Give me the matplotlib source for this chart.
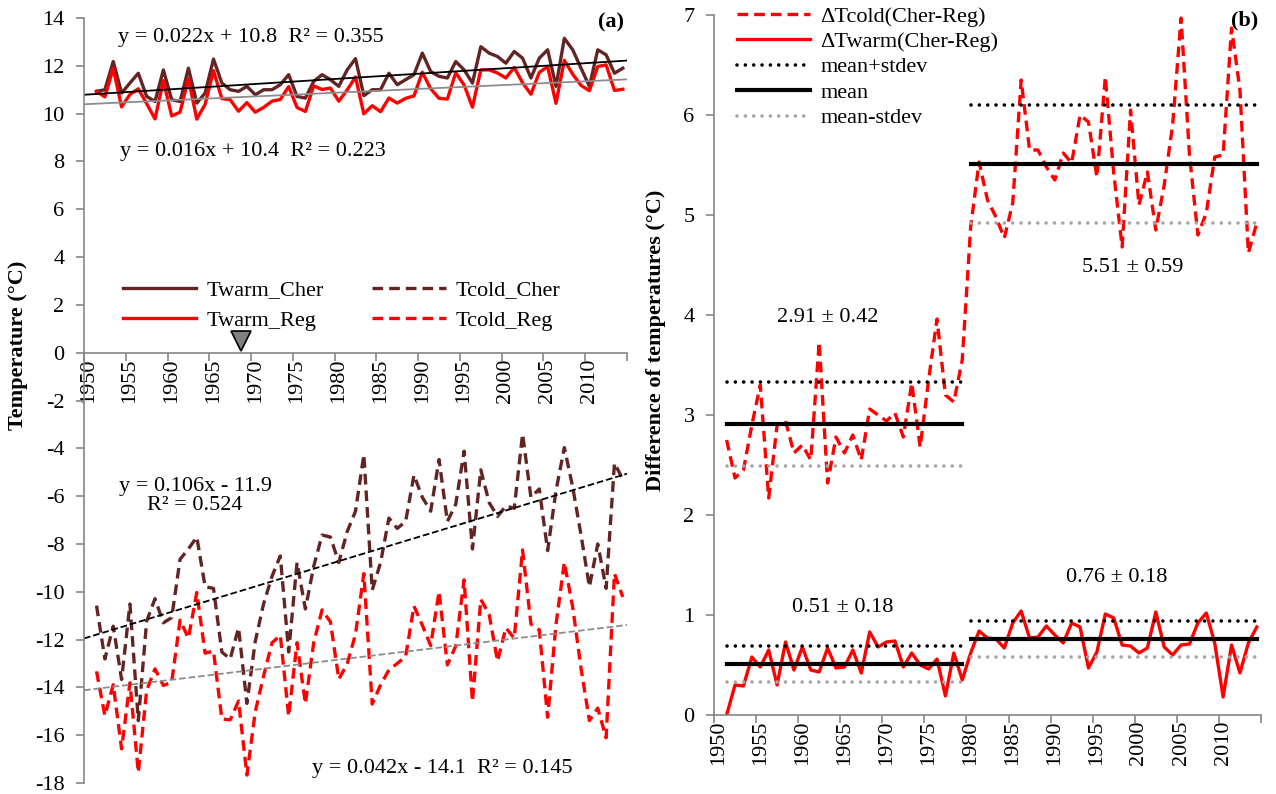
import numpy as np
import matplotlib
matplotlib.use('Agg')
import matplotlib.pyplot as plt

plt.rcParams['font.family'] = ['Liberation Serif', 'DejaVu Serif']
plt.rcParams['font.size'] = 16
plt.rcParams['axes.unicode_minus'] = False

# years of the series
years = np.arange(1951, 2015)

# panel (a): mean temperatures of warm / cold period, Chernobyl vs region
twarm_cher = [10.93, 11.00, 12.18, 10.86, 11.28, 11.69, 10.72, 10.51, 11.83, 10.58,
              10.51, 11.90, 10.44, 10.86, 12.28, 11.28, 11.00, 10.93, 11.14, 10.79,
              11.00, 11.00, 11.21, 11.63, 10.72, 10.65, 11.35, 11.63, 11.42, 11.14,
              11.83, 12.30, 10.75, 11.00, 11.00, 11.69, 11.21, 11.42, 11.63, 12.53,
              11.76, 11.56, 11.49, 12.18, 11.83, 11.28, 12.80, 12.53, 12.39, 12.11,
              12.60, 12.32, 11.49, 12.32, 12.67, 11.14, 13.15, 12.67, 11.90, 11.14,
              12.67, 12.46, 11.69, 11.90]
twarm_reg = [10.93, 10.70, 11.89, 10.28, 10.80, 11.04, 10.42, 9.78, 11.38, 9.90,
             10.06, 11.47, 9.77, 10.39, 11.80, 10.63, 10.58, 10.10, 10.46, 10.06,
             10.26, 10.52, 10.59, 11.13, 10.26, 10.09, 11.16, 11.01, 11.07, 10.52,
             10.99, 11.53, 9.99, 10.33, 10.08, 10.65, 10.44, 10.64, 10.74, 11.73,
             11.04, 10.64, 10.61, 11.71, 11.20, 10.27, 11.83, 11.83, 11.70, 11.49,
             11.93, 11.29, 10.81, 11.72, 11.97, 10.43, 12.23, 11.65, 11.18, 10.96,
             11.97, 12.04, 10.97, 11.02]
tcold_cher = [-10.58, -12.81, -11.44, -13.67, -10.51, -15.39, -11.23, -10.29, -11.30, -11.08,
              -8.64, -8.21, -7.71, -9.79, -9.86, -12.52, -12.81, -11.51, -14.67, -12.08,
              -10.50, -9.36, -8.50, -12.52, -8.78, -10.72, -8.93, -7.63, -7.71, -8.78,
              -7.49, -6.63, -4.26, -9.93, -8.78, -6.92, -7.35, -7.06, -5.12, -6.05,
              -6.63, -4.47, -7.06, -6.34, -4.12, -8.21, -4.90, -6.27, -6.85, -6.41,
              -6.51, -3.40, -6.05, -5.70, -8.28, -5.77, -3.97, -5.62, -7.63, -9.79,
              -8.00, -9.86, -4.62, -5.30]
tcold_reg = [-13.33, -15.18, -13.89, -16.57, -13.81, -17.56, -14.13, -13.23, -13.92, -13.78,
             -11.19, -11.94, -10.03, -12.57, -12.48, -15.32, -15.36, -14.57, -17.67, -15.02,
             -13.52, -12.14, -11.82, -15.20, -12.13, -14.68, -12.13, -10.76, -11.26, -13.66,
             -13.02, -11.78, -9.24, -14.70, -13.90, -13.27, -13.00, -12.71, -10.60, -11.40,
             -12.25, -9.99, -13.06, -12.27, -9.50, -14.59, -10.32, -10.95, -12.90, -11.51,
             -11.94, -8.25, -11.35, -11.60, -15.25, -11.37, -8.77, -10.64, -13.21, -15.39,
             -14.87, -16.11, -9.24, -10.22]

# linear trends (slope, intercept), x = year - 1950
trend_twarm_cher = (0.022, 10.8)
trend_twarm_reg = (0.016, 10.4)
trend_tcold_cher = (0.106, -11.9)
trend_tcold_reg = (0.042, -14.1)

# panel (b): differences Cher - Reg
dtcold = [2.75, 2.37, 2.45, 2.90, 3.30, 2.17, 2.90, 2.94, 2.62, 2.70,
          2.55, 3.73, 2.32, 2.78, 2.62, 2.80, 2.55, 3.06, 3.00, 2.94,
          3.02, 2.78, 3.32, 2.68, 3.35, 3.96, 3.20, 3.13, 3.55, 4.88,
          5.53, 5.15, 4.98, 4.77, 5.12, 6.35, 5.65, 5.65, 5.48, 5.35,
          5.62, 5.52, 6.00, 5.93, 5.38, 6.38, 5.42, 4.68, 6.05, 5.10,
          5.43, 4.85, 5.30, 5.90, 6.97, 5.60, 4.80, 5.02, 5.58, 5.60,
          6.87, 6.25, 4.62, 4.92]
dtwarm = [0.00, 0.30, 0.29, 0.58, 0.48, 0.65, 0.30, 0.73, 0.45, 0.68,
          0.45, 0.43, 0.67, 0.47, 0.48, 0.65, 0.42, 0.83, 0.68, 0.73,
          0.74, 0.48, 0.62, 0.50, 0.46, 0.56, 0.19, 0.62, 0.35, 0.62,
          0.84, 0.77, 0.76, 0.67, 0.92, 1.04, 0.77, 0.78, 0.89, 0.80,
          0.72, 0.92, 0.88, 0.47, 0.63, 1.01, 0.97, 0.70, 0.69, 0.62,
          0.67, 1.03, 0.68, 0.60, 0.70, 0.71, 0.92, 1.02, 0.72, 0.18,
          0.70, 0.42, 0.72, 0.88]

# periods and their statistics
period_start = [1951, 1980]
period_end = [1979, 2014]
cold_mean = [2.91, 5.51]
cold_sd = [0.42, 0.59]
warm_mean = [0.51, 0.76]
warm_sd = [0.18, 0.18]

shift_year = 1968.3

brown = '#632523'
red = '#ff0000'
axcol = '#868686'

W, H = 1276, 794
def frac(l, t, r, b):
    return [l / W, 1 - b / H, (r - l) / W, (b - t) / H]

fig = plt.figure(figsize=(W / 100, H / 100), dpi=100)

def style_axis(ax):
    for s in ['top', 'right']:
        ax.spines[s].set_visible(False)
    for s in ['left', 'bottom']:
        ax.spines[s].set_color(axcol)
        ax.spines[s].set_linewidth(1.2)
    ax.set_xlim(1949.5, 2014.5)
    ax.set_xticks(np.arange(1949.5, 2015, 5))
    ax.set_xticklabels([])
    ax.set_xticks(np.arange(1950, 2015, 5), minor=True)
    ax.set_xticklabels([str(y) for y in range(1950, 2015, 5)], minor=True, rotation=90)
    ax.tick_params(axis='x', which='major', direction='out', length=6, color=axcol, width=1.2)
    ax.tick_params(axis='x', which='minor', length=0, pad=4)
    ax.tick_params(axis='y', direction='out', length=6, color=axcol, width=1.2, pad=8)

# ---------------- panel (a)
ax = fig.add_axes(frac(84, 18, 627, 783))
ax.spines['bottom'].set_position(('data', 0))
style_axis(ax)
ax.set_ylim(-18, 14)
ax.set_yticks(np.arange(-18, 15, 2))

dash = (3.2, 1.8)
l1, = ax.plot(years, twarm_cher, color=brown, lw=2.4, label='Twarm_Cher')
l2, = ax.plot(years, twarm_reg, color=red, lw=2.4, label='Twarm_Reg')
l3, = ax.plot(years, tcold_cher, color=brown, lw=2.4, dashes=dash, label='Tcold_Cher')
l4, = ax.plot(years, tcold_reg, color=red, lw=2.4, dashes=dash, label='Tcold_Reg')

xt = np.array([1949.5, 2014.5])
for (a, b), col, ls in [(trend_twarm_cher, 'black', '-'), (trend_twarm_reg, '#8c8c8c', '-'),
                        (trend_tcold_cher, 'black', '--'), (trend_tcold_reg, '#8c8c8c', '--')]:
    ax.plot(xt, a * (xt - 1950) + b, color=col, lw=1.3, ls=ls)

ax.plot([shift_year], [0.5], marker='v', ms=14, color='#808080', mec='black', mew=1.2,
        clip_on=False)

ax.text(1953.6, 13.2, 'y = 0.022x + 10.8  R² = 0.355', va='center', ha='left')
ax.text(1953.8, 8.4, 'y = 0.016x + 10.4  R² = 0.223', va='center', ha='left')
ax.text(1962.8, -6.0, 'y = 0.106x - 11.9\nR² = 0.524', va='center', ha='center',
        linespacing=1.0)
ax.text(1976.8, -17.4, 'y = 0.042x - 14.1  R² = 0.145', va='center', ha='left')
ax.text(2014.2, 13.8, '(a)', va='center', ha='right', weight='bold')

ax.legend(handles=[l1, l2, l3, l4], ncol=2, frameon=False, loc='upper left',
          bbox_to_anchor=(123 / W, 1 - 280 / H), bbox_transform=fig.transFigure,
          borderpad=0, borderaxespad=0, handlelength=3.3, handletextpad=0.45,
          columnspacing=2.2, labelspacing=0.45)

fig.text(18 / W, 1 - 345 / H, 'Temperature (°C)', rotation=90, va='center', ha='center',
         weight='bold')

# ---------------- panel (b)
bx = fig.add_axes(frac(714, 15, 1261, 715))
style_axis(bx)
bx.set_ylim(0, 7)
bx.set_yticks(range(0, 8))

m1, = bx.plot(years, dtcold, color=red, lw=2.4, dashes=dash, label='ΔTcold(Cher-Reg)')
m2, = bx.plot(years, dtwarm, color=red, lw=2.4, label='ΔTwarm(Cher-Reg)')

dot = (0.01, 2.3)
for i in range(len(period_start)):
    xs = [period_start[i], period_end[i]]
    for mean, sd in [(cold_mean[i], cold_sd[i]), (warm_mean[i], warm_sd[i])]:
        s1, = bx.plot(xs, [mean + sd] * 2, color='black', lw=2.6, dashes=dot,
                      dash_capstyle='round', label='mean+stdev')
        s2, = bx.plot(xs, [mean] * 2, color='black', lw=3.0, label='mean')
        s3, = bx.plot(xs, [mean - sd] * 2, color='#a6a6a6', lw=2.6, dashes=dot,
                      dash_capstyle='round', label='mean-stdev')

bx.text(1963.0, 3.97, '%.2f ± %.2f' % (cold_mean[0], cold_sd[0]), ha='center', va='center')
bx.text(1999.2, 4.48, '%.2f ± %.2f' % (cold_mean[1], cold_sd[1]), ha='center', va='center')
bx.text(1964.8, 1.08, '%.2f ± %.2f' % (warm_mean[0], warm_sd[0]), ha='center', va='center')
bx.text(1997.3, 1.37, '%.2f ± %.2f' % (warm_mean[1], warm_sd[1]), ha='center', va='center')
bx.text(2014.2, 6.95, '(b)', va='center', ha='right', weight='bold')

bx.legend(handles=[m1, m2, s1, s2, s3], frameon=False, loc='upper left',
          bbox_to_anchor=(737 / W, 1 - 6 / H), bbox_transform=fig.transFigure,
          borderpad=0, borderaxespad=0, handlelength=3.3, handletextpad=0.45,
          labelspacing=0.22)

fig.text(656 / W, 1 - 340 / H, 'Difference of temperatures (°C)', rotation=90,
         va='center', ha='center', weight='bold')

fig.savefig('out.png', dpi=100)
